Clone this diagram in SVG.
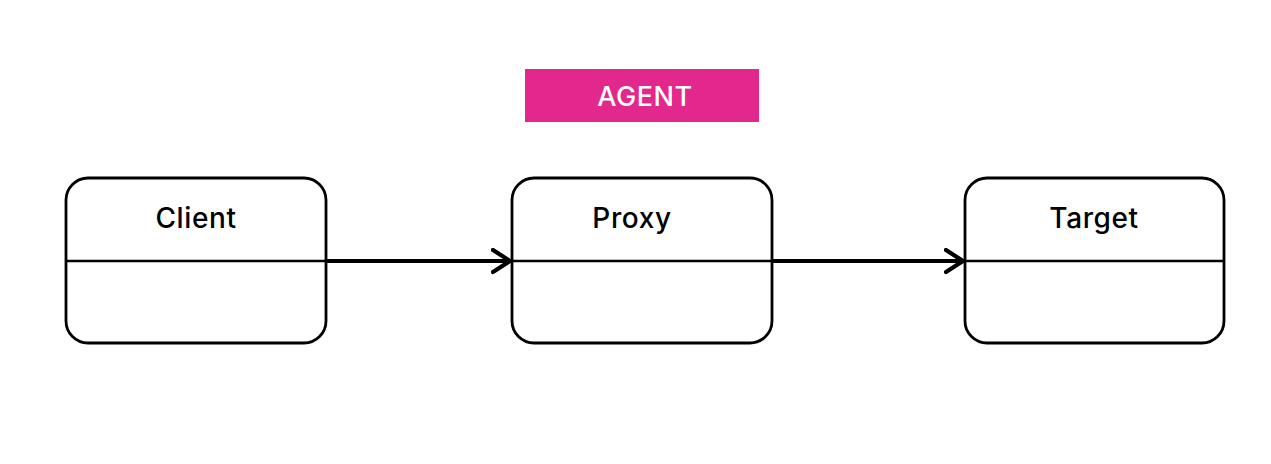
<svg xmlns="http://www.w3.org/2000/svg" width="1271" height="464" viewBox="0 0 1271 464">
<style>
.box{fill:#fff;stroke:#000;stroke-width:2.8}
.div{stroke:#000;stroke-width:2.4}
.lbl{font-family:Inter,"Open Sans",sans-serif;font-size:28px;font-weight:500;fill:#000;text-anchor:middle;letter-spacing:0.6px}
.edge{stroke:#000;stroke-width:4.2;fill:none}
</style>
<defs>
<marker id="arr" markerWidth="22" markerHeight="28" refX="19" refY="13" orient="auto" markerUnits="userSpaceOnUse">
<path d="M2,2 L19,13 L2,24" fill="none" stroke="#000" stroke-width="4.2" stroke-linecap="round" stroke-linejoin="round"/>
</marker>
</defs>
<rect width="1271" height="464" fill="#fff"/>
<g id="agent">
<rect x="525" y="69" width="234" height="53" fill="#E2288C"/>
<text x="645" y="106" font-family="Inter,'Open Sans',sans-serif" font-size="27" font-weight="500" fill="#fff" text-anchor="middle" letter-spacing="0.6">AGENT</text>
</g>
<g id="client">
<rect class="box" x="66" y="178" width="260" height="165" rx="22"/>
<line class="div" x1="66" y1="261" x2="326" y2="261"/>
<text class="lbl" x="196" y="228">Client</text>
</g>
<g id="proxy">
<rect class="box" x="512" y="178" width="260" height="165" rx="22"/>
<line class="div" x1="512" y1="261" x2="772" y2="261"/>
<text class="lbl" x="632" y="228">Proxy</text>
</g>
<g id="target">
<rect class="box" x="965" y="178" width="259" height="165" rx="22"/>
<line class="div" x1="965" y1="261" x2="1224" y2="261"/>
<text class="lbl" x="1094" y="228">Target</text>
</g>
<g id="connectors">
<line class="edge" x1="326" y1="261" x2="510" y2="261" marker-end="url(#arr)"/>
<line class="edge" x1="772" y1="261" x2="963" y2="261" marker-end="url(#arr)"/>
</g>
</svg>
